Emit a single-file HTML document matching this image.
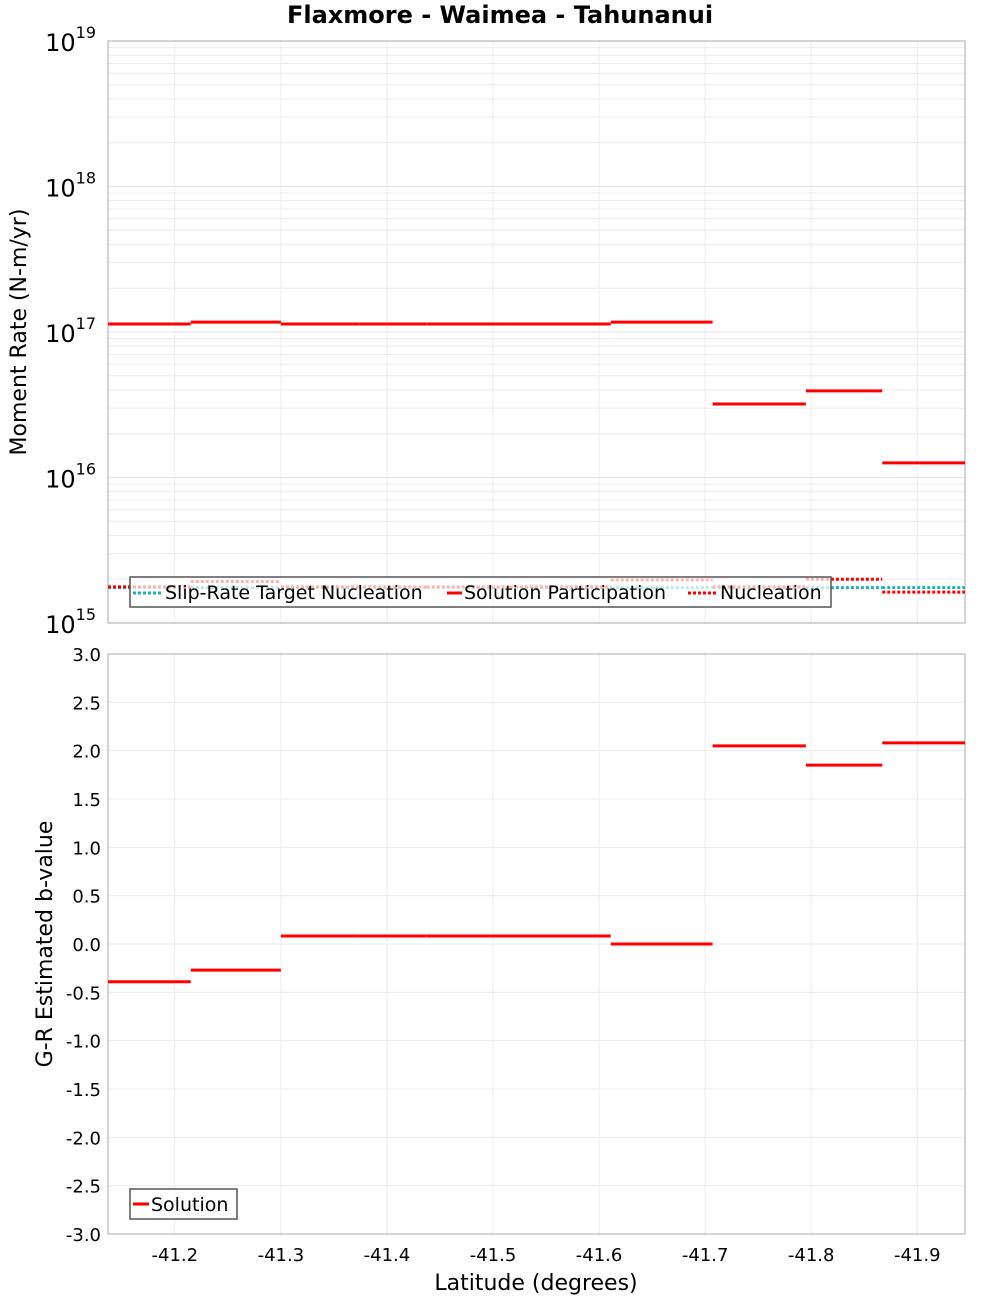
<!DOCTYPE html>
<html><head><meta charset="utf-8"><style>
html,body{margin:0;padding:0;background:#fff;}
svg{display:block;font-family:"DejaVu Sans","Liberation Sans",sans-serif;}
</style></head><body>
<svg id="chart" width="1000" height="1300" viewBox="0 0 1000 1300">
<text x="500" y="23" text-anchor="middle" font-size="24" font-weight="bold">Flaxmore - Waimea - Tahunanui</text>
<text transform="translate(26,332) rotate(-90)" text-anchor="middle" font-size="22">Moment Rate (N-m/yr)</text>
<text transform="translate(52,944) rotate(-90)" text-anchor="middle" font-size="22">G-R Estimated b-value</text>
<text x="536" y="1290" text-anchor="middle" font-size="22">Latitude (degrees)</text>
<g id="topg"></g><g id="botg"></g>
</svg>
<script>
const bounds = [-41.137,-41.215,-41.300,-41.373,-41.4375,-41.516,-41.611,-41.707,-41.795,-41.867,-41.945];
const participation = [1.135e17,1.17e17,1.135e17,1.135e17,1.135e17,1.135e17,1.17e17,3.2e16,3.94e16,1.26e16];
const nucleation = [1.77e15,1.93e15,1.77e15,1.77e15,1.77e15,1.77e15,1.98e15,1.77e15,2.0e15,1.63e15];
const target = [1.75e15,1.75e15,1.75e15,1.75e15,1.75e15,1.75e15,1.75e15,1.75e15,1.75e15,1.75e15];
const bvalues = [-0.39,-0.27,0.083,0.083,0.083,0.083,0.0,2.05,1.85,2.08];
const xTicks = [-41.2,-41.3,-41.4,-41.5,-41.6,-41.7,-41.8,-41.9];
const logTicks = [15,16,17,18,19];
const bTicks = [-3,-2.5,-2,-1.5,-1,-0.5,0,0.5,1,1.5,2,2.5,3];

const NS='http://www.w3.org/2000/svg';
const L=108,R=965,T1=41,B1=623,T2=654,B2=1234;
const xs=v=>L+(bounds[0]-v)/(bounds[0]-bounds[bounds.length-1])*(R-L);
const ly=v=>T1+(19-Math.log10(v))/4*(B1-T1);
const by=v=>T2+(3-v)/6*(B2-T2);
function el(p,tag,a,txt){const e=document.createElementNS(NS,tag);for(const k in a)e.setAttribute(k,a[k]);if(txt!==undefined)e.textContent=txt;p.appendChild(e);return e;}
const topG=document.getElementById('topg'),botG=document.getElementById('botg');

for(let d=15;d<19;d++)for(let m=2;m<=9;m++){const g=el(topG,'line',{x1:L,x2:R,y1:ly(m*Math.pow(10,d)),y2:ly(m*Math.pow(10,d)),stroke:'#ececec'});

}
logTicks.forEach(t=>{const g=el(topG,'line',{x1:L,x2:R,y1:ly(Math.pow(10,t)),y2:ly(Math.pow(10,t)),stroke:'#e4e4e4'});


const tx=el(topG,'text',{x:96,y:ly(Math.pow(10,t))+10,'text-anchor':'end','font-size':24});


el(tx,'tspan',{},'10');el(tx,'tspan',{dy:-13,'font-size':16},String(t));});
xTicks.forEach(t=>{[[T1,B1,topG],[T2,B2,botG]].forEach(([a,b,p])=>{const g=el(p,'line',{x1:xs(t),x2:xs(t),y1:a,y2:b,stroke:'#ececec'});

});
const tx=el(botG,'text',{x:xs(t),y:1261,'text-anchor':'middle','font-size':18},t.toFixed(1));

});
bTicks.forEach(t=>{const g=el(botG,'line',{x1:L,x2:R,y1:by(t),y2:by(t),stroke:'#ececec'});


const tx=el(botG,'text',{x:101,y:by(t)+7,'text-anchor':'end','font-size':18},t.toFixed(1));

});
[[T1,B1,topG],[T2,B2,botG]].forEach(([a,b,p])=>{const f=el(p,'rect',{x:L,y:a,width:R-L,height:b-a,fill:'none',stroke:'#aaa'});

});

for(let i=0;i<participation.length;i++){
 const x1=xs(bounds[i]),x2=xs(bounds[i+1]);
 const t=el(topG,'line',{x1,x2,y1:ly(target[i]),y2:ly(target[i]),stroke:'#20b0b8','stroke-width':3,'stroke-dasharray':'3,2'});
 
 
 const n=el(topG,'line',{x1,x2,y1:ly(nucleation[i]),y2:ly(nucleation[i]),stroke:'#f00','stroke-width':3,'stroke-dasharray':'3,2'});
 
 
 const p=el(topG,'line',{x1,x2,y1:ly(participation[i]),y2:ly(participation[i]),stroke:'#f00','stroke-width':3});
 
 
 const b=el(botG,'line',{x1,x2,y1:by(bvalues[i]),y2:by(bvalues[i]),stroke:'#f00','stroke-width':3});
 
 
}
const lg=el(topG,'g',{});


el(lg,'rect',{x:130,y:577,width:701,height:30,fill:'rgba(255,255,255,0.7)',stroke:'#555','stroke-width':1.5});
el(lg,'line',{x1:133,x2:161,y1:593,y2:593,stroke:'#20b0b8','stroke-width':3,'stroke-dasharray':'3,2'});
el(lg,'text',{x:165,y:599,'font-size':19},'Slip-Rate Target Nucleation');
el(lg,'line',{x1:447,x2:462,y1:593,y2:593,stroke:'#f00','stroke-width':3});
el(lg,'text',{x:464,y:599,'font-size':19},'Solution Participation');
el(lg,'line',{x1:688,x2:716,y1:593,y2:593,stroke:'#f00','stroke-width':3,'stroke-dasharray':'3,2'});
el(lg,'text',{x:720,y:599,'font-size':19},'Nucleation');
const lb=el(botG,'g',{});


el(lb,'rect',{x:130,y:1189,width:107,height:30,fill:'rgba(255,255,255,0.7)',stroke:'#555','stroke-width':1.5});
el(lb,'line',{x1:133,x2:149,y1:1204,y2:1204,stroke:'#f00','stroke-width':3});
el(lb,'text',{x:151,y:1211,'font-size':19},'Solution');
</script>
</body></html>
